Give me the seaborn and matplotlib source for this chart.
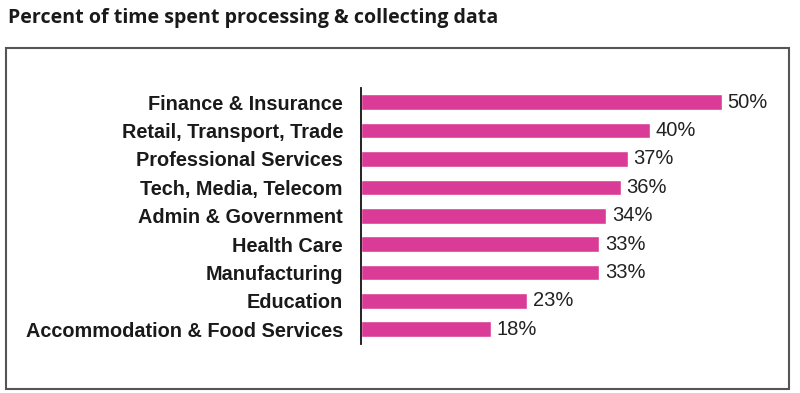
import pandas as pd
import seaborn as sns
import matplotlib.pyplot as plt
from matplotlib.patches import Rectangle

# data
industries = [
    "Finance & Insurance",
    "Retail, Transport, Trade",
    "Professional Services",
    "Tech, Media, Telecom",
    "Admin & Government",
    "Health Care",
    "Manufacturing",
    "Education",
    "Accommodation & Food Services",
]
percent = [50, 40, 37, 36, 34, 33, 33, 23, 18]

df = pd.DataFrame({"industry": industries, "percent": percent})

sns.set_theme(style="white")
plt.rcParams["font.family"] = ["Liberation Sans", "DejaVu Sans"]

fig = plt.figure(figsize=(8, 3.93), dpi=100)

# axes placed so the bars line up with the reference
left = 361 / 800
width = (780 - 361) / 800
ax = fig.add_axes([left, 1 - 343.5 / 393, width, 255.5 / 393])

sns.barplot(data=df, x="percent", y="industry", color="#DA3B97",
            width=0.55, saturation=1, ax=ax)

ax.set_xlim(0, 50 * (780 - 361) / (722 - 361))
ax.set_xlabel("")
ax.set_ylabel("")
ax.set_xticks([])
ax.tick_params(axis="y", length=0, pad=13)
for lbl in ax.get_yticklabels():
    lbl.set_fontweight("bold")
    lbl.set_fontsize(14.3)
    lbl.set_color("#1a1a1a")

for s in ["top", "right", "bottom"]:
    ax.spines[s].set_visible(False)
ax.spines["left"].set_color("#111111")
ax.spines["left"].set_linewidth(1.3)

ax.bar_label(ax.containers[0], labels=[f"{v}%" for v in percent],
             padding=4, fontsize=14.5, color="#222222")

# frame around the chart
fig.patches.append(Rectangle((6 / 800, 1 - 389 / 393), 783 / 800, 341 / 393,
                             transform=fig.transFigure, fill=False,
                             edgecolor="#555555", linewidth=1.5))

fig.text(8 / 800, 1 - 18 / 393, "Percent of time spent processing & collecting data",
         fontsize=14.1, fontweight="bold", family=["Open Sans", "DejaVu Sans"],
         color="#1a1a1a", va="center", ha="left")

fig.savefig("out.png", dpi=100)
